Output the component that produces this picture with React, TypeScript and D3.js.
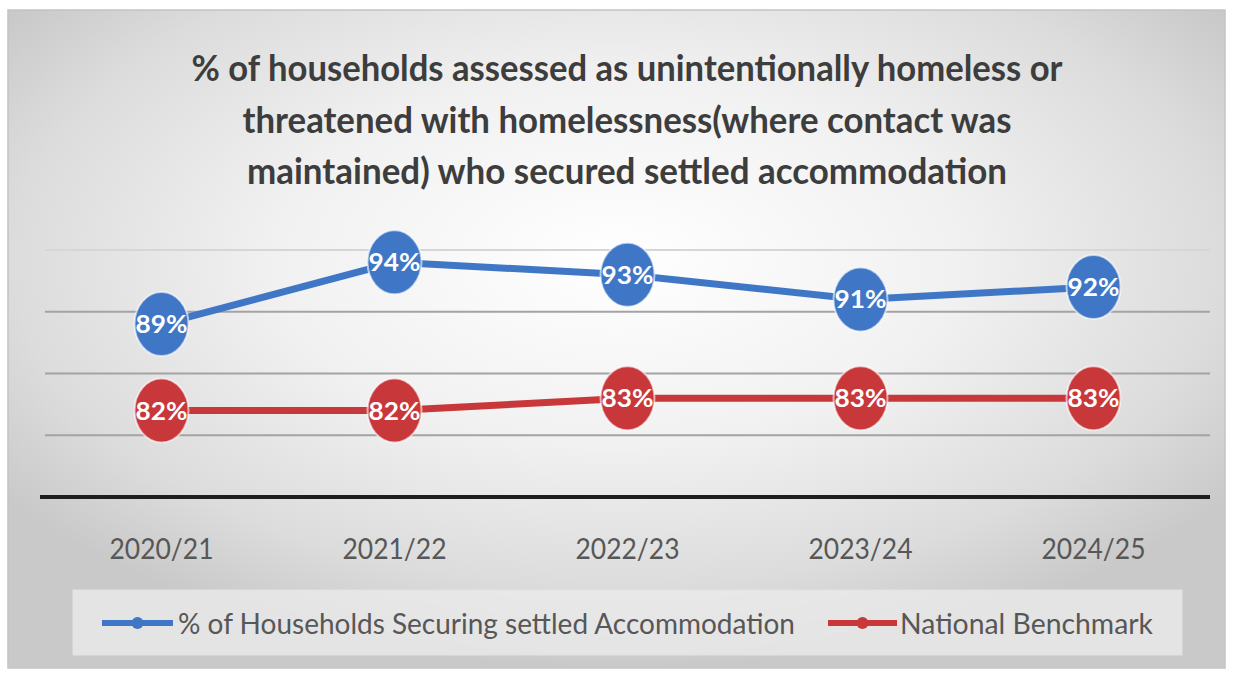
import React from "react";
import * as d3 from "d3";

const categories = ["2020/21", "2021/22", "2022/23", "2023/24", "2024/25"];
const householdsPct = [89, 94, 93, 91, 92];
const benchmarkPct = [82, 82, 83, 83, 83];
const gridTicks = [80, 85, 90, 95];
const titleLines = [
  "% of households assessed as unintentionally homeless or",
  "threatened with homelessness(where contact was",
  "maintained) who secured settled accommodation",
];
const seriesNames = ["% of Households Securing settled Accommodation", "National Benchmark"];

const W = 1234;
const H = 675;
const FONT = "Lato, 'Open Sans', 'Liberation Sans', sans-serif";

export default function App() {
  const x = d3.scaleBand<string>().domain(categories).range([45, 1210]);
  const y = d3.scaleLinear().domain([75, 95]).range([497, 250]);
  const cx = (c: string) => (x(c) as number) + x.bandwidth() / 2;
  const line = d3
    .line<number>()
    .x((_, i) => cx(categories[i]))
    .y((d) => y(d));

  const series = [
    { name: seriesNames[0], values: householdsPct, color: "#3f77c6" },
    { name: seriesNames[1], values: benchmarkPct, color: "#c8383a" },
  ];

  const titleWidths = [871, 769, 760];
  const titleBaselines = [81, 133, 184];

  return (
    <svg
      width={W}
      height={H}
      style={{ position: "absolute", left: 0, top: 0, display: "block" }}
    >
      <defs>
        <radialGradient id="bg" cx="50%" cy="38%" r="62%" fx="50%" fy="38%">
          <stop offset="0%" stopColor="#ffffff" />
          <stop offset="45%" stopColor="#f1f1f1" />
          <stop offset="80%" stopColor="#dcdcdc" />
          <stop offset="100%" stopColor="#c9c9c9" />
        </radialGradient>
      </defs>
      <rect x={0} y={0} width={W} height={H} fill="#ffffff" />
      <rect x={8} y={10} width={1217} height={658} fill="url(#bg)" stroke="#c4c4c4" strokeWidth={1.5} />

      {titleLines.map((t, i) => (
        <text
          key={t}
          x={627}
          y={titleBaselines[i]}
          textAnchor="middle"
          fontFamily={FONT}
          fontWeight={700}
          fontSize={36}
          fill="#3d3d3d"
          textLength={titleWidths[i]}
          lengthAdjust="spacingAndGlyphs"
        >
          {t}
        </text>
      ))}

      {gridTicks.map((t, i) => (
        <line
          key={t}
          x1={45}
          x2={1210}
          y1={y(t)}
          y2={y(t)}
          stroke={i === gridTicks.length - 1 ? "#d6d6d6" : "#a3a3a3"}
          strokeWidth={2}
        />
      ))}
      <line x1={40} x2={1210} y1={y(75)} y2={y(75)} stroke="#1e1e1e" strokeWidth={4} />

      {categories.map((c) => (
        <text
          key={c}
          x={cx(c)}
          y={559}
          textAnchor="middle"
          fontFamily={FONT}
          fontSize={29}
          fill="#575757"
          textLength={104}
          lengthAdjust="spacingAndGlyphs"
        >
          {c}
        </text>
      ))}

      {series.map((s) => (
        <g key={s.name}>
          <path d={line(s.values) || ""} fill="none" stroke={s.color} strokeWidth={7} />
          {s.values.map((v, i) => (
            <g key={i}>
              <ellipse
                cx={cx(categories[i])}
                cy={y(v)}
                rx={27}
                ry={32}
                fill={s.color}
                stroke="#ffffff"
                strokeOpacity={0.6}
                strokeWidth={2}
              />
              <text
                x={cx(categories[i])}
                y={y(v) + 9}
                textAnchor="middle"
                fontFamily={FONT}
                fontWeight={700}
                fontSize={25}
                fill="#ffffff"
                textLength={52}
                lengthAdjust="spacingAndGlyphs"
              >
                {v}%
              </text>
            </g>
          ))}
        </g>
      ))}

      <rect x={73} y={590} width={1109} height={65} fill="#ececec" fillOpacity={0.75} stroke="#e2e2e2" strokeWidth={1} />
      <line x1={102} x2={173} y1={623} y2={623} stroke={series[0].color} strokeWidth={6} />
      <circle cx={137.5} cy={623} r={6} fill={series[0].color} />
      <text x={178} y={634} fontFamily={FONT} fontSize={29} fill="#575757" textLength={617} lengthAdjust="spacingAndGlyphs">
        {series[0].name}
      </text>
      <line x1={828} x2={897} y1={623} y2={623} stroke={series[1].color} strokeWidth={6} />
      <circle cx={862.5} cy={623} r={6} fill={series[1].color} />
      <text x={900} y={634} fontFamily={FONT} fontSize={29} fill="#575757" textLength={253} lengthAdjust="spacingAndGlyphs">
        {series[1].name}
      </text>
    </svg>
  );
}
